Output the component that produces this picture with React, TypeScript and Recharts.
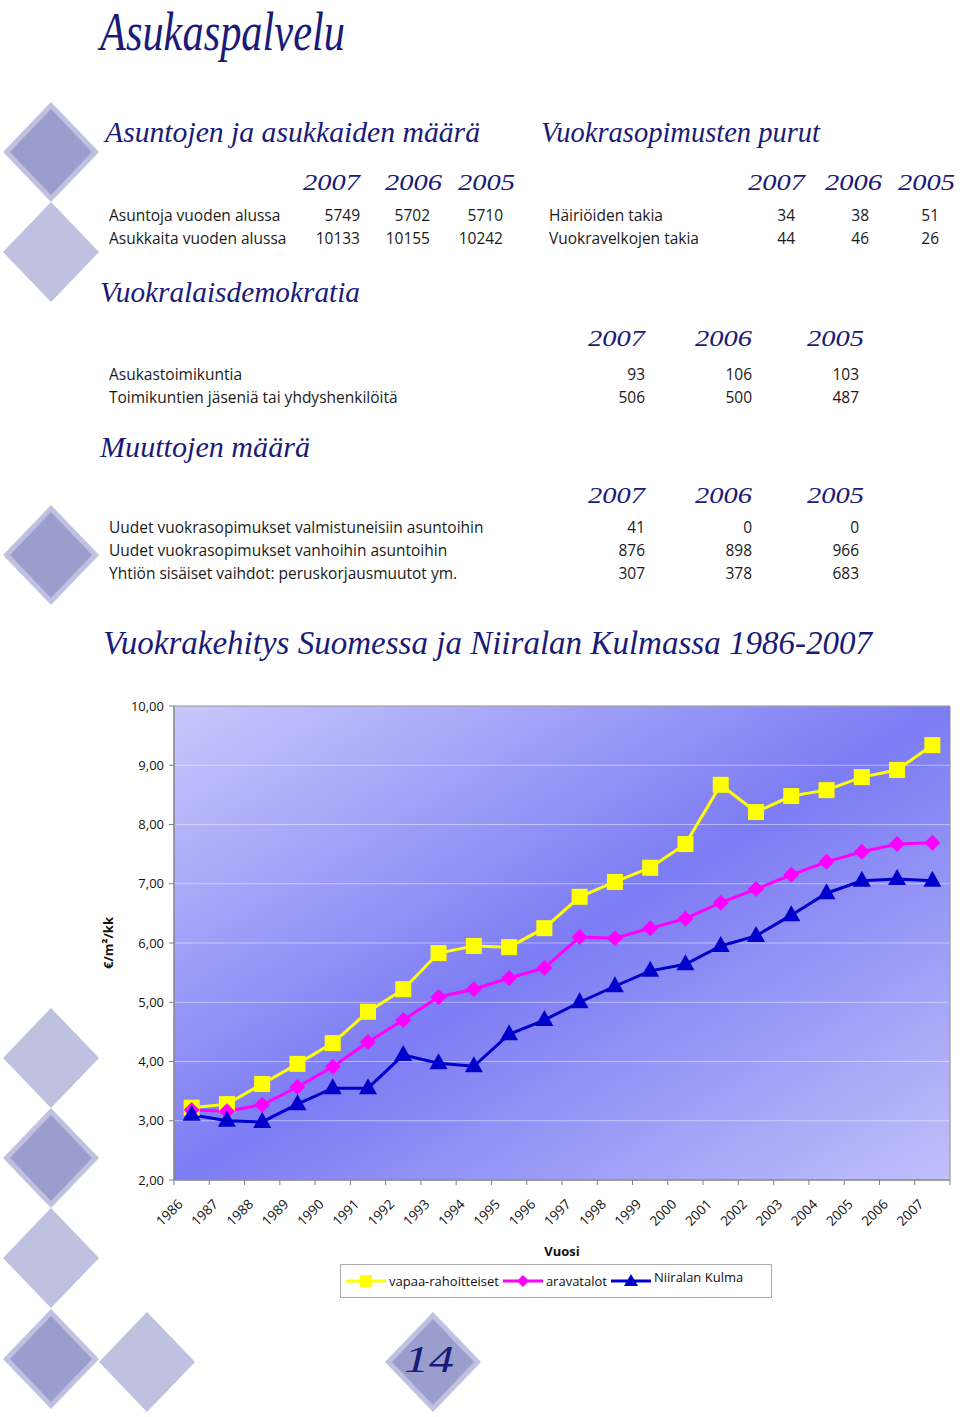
import { LineChart, Line, XAxis, YAxis, CartesianGrid, Legend, ReferenceArea } from 'recharts'

// chart data
const years = ['1986', '1987', '1988', '1989', '1990', '1991', '1992', '1993', '1994', '1995', '1996',
  '1997', '1998', '1999', '2000', '2001', '2002', '2003', '2004', '2005', '2006', '2007']
const vapaa = [3.22, 3.28, 3.62, 3.96, 4.31, 4.84, 5.22, 5.83, 5.95, 5.93, 6.25,
  6.78, 7.03, 7.27, 7.67, 8.67, 8.21, 8.48, 8.58, 8.8, 8.92, 9.34]
const arava = [3.18, 3.16, 3.27, 3.57, 3.91, 4.33, 4.7, 5.09, 5.22, 5.41, 5.58,
  6.1, 6.08, 6.25, 6.41, 6.68, 6.91, 7.15, 7.37, 7.54, 7.67, 7.69]
const niirala = [3.1, 3.0, 2.98, 3.28, 3.55, 3.55, 4.11, 3.97, 3.92, 4.46, 4.7,
  5.0, 5.27, 5.53, 5.64, 5.95, 6.12, 6.47, 6.84, 7.05, 7.08, 7.05]
const yTicks = [2, 3, 4, 5, 6, 7, 8, 9, 10]
const seriesNames = ['vapaa-rahoitteiset', 'aravatalot', 'Niiralan Kulma']
const seriesColors = ['#ffff00', '#ff00ff', '#0000cc']

// table data
const tableYears = ['2007', '2006', '2005']
const asunnotRows = ['Asuntoja vuoden alussa', 'Asukkaita vuoden alussa']
const asunnotValues = [[5749, 5702, 5710], [10133, 10155, 10242]]
const purutRows = ['Häiriöiden takia', 'Vuokravelkojen takia']
const purutValues = [[34, 38, 51], [44, 46, 26]]
const demoRows = ['Asukastoimikuntia', 'Toimikuntien jäseniä tai yhdyshenkilöitä']
const demoValues = [[93, 106, 103], [506, 500, 487]]
const muuttoRows = ['Uudet vuokrasopimukset valmistuneisiin asuntoihin', 'Uudet vuokrasopimukset vanhoihin asuntoihin', 'Yhtiön sisäiset vaihdot: peruskorjausmuutot ym.']
const muuttoValues = [[41, 0, 0], [876, 898, 966], [307, 378, 683]]

const data = years.map((year, i) => ({
  year,
  slot: i + 0.5,
  vapaa: vapaa[i],
  arava: arava[i],
  niirala: niirala[i],
}))
const slotTicks = [...years.map((_, i) => i), years.length]

const SANS = '"Open Sans", "DejaVu Sans", sans-serif'
const SCRIPT = '"Liberation Serif", "DejaVu Serif", serif'
const NAVY = '#1a1a78'
const LIGHT = '#bfc1e1'
const DARK = '#9b9dcd'
const HALF_BAND = 776 / 22 / 2

const diamond = (cx: number, cy: number, rx: number, ry: number) =>
  `${cx},${cy - ry} ${cx + rx},${cy} ${cx},${cy + ry} ${cx - rx},${cy}`

const Deco = ({ cx, cy, dark }: { cx: number; cy: number; dark?: boolean }) => (
  <g>
    <polygon points={diamond(cx, cy, 48, 50)} fill={LIGHT} />
    {dark && <polygon points={diamond(cx, cy, 41, 43)} fill={DARK} />}
  </g>
)

const Title = ({ x, y, size, len, children }: any) => (
  <text x={x} y={y} fontFamily={SCRIPT} fontStyle="italic" fontSize={size} fill={NAVY}
    textLength={len} lengthAdjust="spacingAndGlyphs">{children}</text>
)

const YearHeads = ({ xs, y }: { xs: number[]; y: number }) => (
  <g>
    {tableYears.map((yr, i) => (
      <Title key={yr} x={xs[i]} y={y} size={23} len={57}>{yr}</Title>
    ))}
  </g>
)

const Rows = ({ labels, values, x, rights, y0 }: any) => (
  <g fontFamily={SANS} fontSize={15.5} fill="#1a1a1a">
    {labels.map((label: string, r: number) => (
      <g key={label}>
        <text x={x} y={y0 + r * 23}>{label}</text>
        {values[r].map((v: number, c: number) => (
          <text key={c} x={rights[c]} y={y0 + r * 23} textAnchor="end">{v}</text>
        ))}
      </g>
    ))}
  </g>
)

const YearTick = (props: any) => {
  const { x, y, payload } = props
  const i = payload.value
  if (i >= years.length) return <g />
  const ex = x + HALF_BAND - 8
  const ey = y + 20
  return (
    <text x={ex} y={ey} textAnchor="end" transform={`rotate(-45 ${ex} ${ey})`}
      fontSize={13.5} fill="#111" fontFamily={SANS}>{years[i]}</text>
  )
}

const Square = (props: any) => {
  const { cx, cy } = props
  return <rect x={cx - 8} y={cy - 8} width={16} height={16} fill={seriesColors[0]} />
}
const Rhomb = (props: any) => {
  const { cx, cy } = props
  return <polygon points={diamond(cx, cy, 8, 8)} fill={seriesColors[1]} />
}
const Tri = (props: any) => {
  const { cx, cy } = props
  return <polygon points={`${cx},${cy - 10} ${cx + 9},${cy + 6} ${cx - 9},${cy + 6}`} fill={seriesColors[2]} />
}

const LegendIcon = ({ i }: { i: number }) => (
  <svg width={42} height={16} style={{ flex: 'none' }}>
    <line x1={1} y1={8} x2={41} y2={8} stroke={seriesColors[i]} strokeWidth={3} />
    {i === 0 && <rect x={15} y={2} width={12} height={12} fill={seriesColors[0]} />}
    {i === 1 && <polygon points={diamond(21, 8, 6, 6)} fill={seriesColors[1]} />}
    {i === 2 && <polygon points="21,1 28,13 14,13" fill={seriesColors[2]} />}
  </svg>
)

const LegendBox = () => (
  <div style={{
    width: 432, height: 34, boxSizing: 'border-box', border: '1px solid #a9a9a9', background: '#fff',
    display: 'flex', alignItems: 'center', paddingLeft: 4, fontFamily: SANS, fontSize: 13, color: '#111',
  }}>
    {seriesNames.map((name, i) => (
      <span key={name} style={{ display: 'flex', alignItems: 'center', marginRight: 3 }}>
        <LegendIcon i={i} />
        <span style={{ marginLeft: 2, position: 'relative', top: i === 2 ? -4 : 0 }}>{name}</span>
      </span>
    ))}
  </div>
)

export default function App() {
  return (
    <div style={{ position: 'relative', width: 960, height: 1417, background: '#fff' }}>
      <style>{'body{margin:0}'}</style>
      <svg width={960} height={1417} style={{ position: 'absolute', left: 0, top: 0 }}>
        <defs>
          <linearGradient id="plotBg" x1="0" y1="0" x2="1" y2="1">
            <stop offset="0%" stopColor="#c8c8fc" />
            <stop offset="50%" stopColor="#7c7cf4" />
            <stop offset="100%" stopColor="#c0c0fa" />
          </linearGradient>
        </defs>
        <Deco cx={51} cy={152} dark />
        <Deco cx={51} cy={252} />
        <Deco cx={51} cy={555} dark />
        <Deco cx={51} cy={1058} />
        <Deco cx={51} cy={1158} dark />
        <Deco cx={51} cy={1258} />
        <Deco cx={51} cy={1359} dark />
        <Deco cx={147} cy={1362} />
        <Deco cx={433} cy={1362} dark />
        <Title x={404} y={1372} size={38} len={50}>14</Title>

        <Title x={100} y={50} size={54} len={245}>Asukaspalvelu</Title>

        <Title x={105} y={142} size={30} len={375}>Asuntojen ja asukkaiden määrä</Title>
        <Title x={541} y={142} size={30} len={279}>Vuokrasopimusten purut</Title>
        <YearHeads xs={[303, 385, 458]} y={190} />
        <YearHeads xs={[748, 825, 898]} y={190} />
        <Rows labels={asunnotRows} values={asunnotValues} x={109} rights={[360, 430, 503]} y0={221} />
        <Rows labels={purutRows} values={purutValues} x={549} rights={[795, 869, 939]} y0={221} />

        <Title x={100} y={302} size={30} len={260}>Vuokralaisdemokratia</Title>
        <YearHeads xs={[588, 695, 807]} y={346} />
        <Rows labels={demoRows} values={demoValues} x={109} rights={[645, 752, 859]} y0={380} />

        <Title x={100} y={457} size={30} len={210}>Muuttojen määrä</Title>
        <YearHeads xs={[588, 695, 807]} y={503} />
        <Rows labels={muuttoRows} values={muuttoValues} x={109} rights={[645, 752, 859]} y0={533} />

        <Title x={103} y={654} size={34} len={769}>Vuokrakehitys Suomessa ja Niiralan Kulmassa 1986-2007</Title>

        <text x={0} y={0} transform="translate(113 943) rotate(-90)" textAnchor="middle"
          fontFamily={SANS} fontSize={13} fontWeight="bold" fill="#111">€/m²/kk</text>
      </svg>

      <div style={{ position: 'absolute', left: 0, top: 690 }}>
        <LineChart width={960} height={610} data={data} margin={{ top: 16, right: 10, left: 100, bottom: 2 }}>
          <CartesianGrid vertical={false} stroke="rgba(255,255,255,0.45)" fill="url(#plotBg)" />
          <ReferenceArea y1={2} y2={10} fill="none" stroke="#8c8c8c" strokeWidth={1} />
          <XAxis dataKey="slot" type="number" domain={[0, years.length]} ticks={slotTicks} interval={0}
            height={84} tick={<YearTick />} tickSize={5} tickMargin={0}
            axisLine={{ stroke: '#808080' }} tickLine={{ stroke: '#808080' }}
            label={{ value: 'Vuosi', position: 'insideBottom', offset: 8, fontFamily: SANS, fontSize: 13, fontWeight: 'bold', fill: '#111' }} />
          <YAxis domain={[2, 10]} ticks={yTicks} width={74} interval={0}
            tickFormatter={(v: number) => v.toFixed(2).replace('.', ',')}
            tick={{ fontFamily: SANS, fontSize: 13, fill: '#111' }} tickSize={5} tickMargin={5}
            axisLine={{ stroke: '#808080' }} tickLine={{ stroke: '#808080' }} />
          <Legend verticalAlign="bottom" content={<LegendBox />} wrapperStyle={{ left: 340, width: 432 }} />
          <Line dataKey="vapaa" name={seriesNames[0]} stroke={seriesColors[0]} strokeWidth={3}
            dot={<Square />} activeDot={false} isAnimationActive={false} />
          <Line dataKey="arava" name={seriesNames[1]} stroke={seriesColors[1]} strokeWidth={3}
            dot={<Rhomb />} activeDot={false} isAnimationActive={false} />
          <Line dataKey="niirala" name={seriesNames[2]} stroke={seriesColors[2]} strokeWidth={3}
            dot={<Tri />} activeDot={false} isAnimationActive={false} />
        </LineChart>
      </div>
    </div>
  )
}
